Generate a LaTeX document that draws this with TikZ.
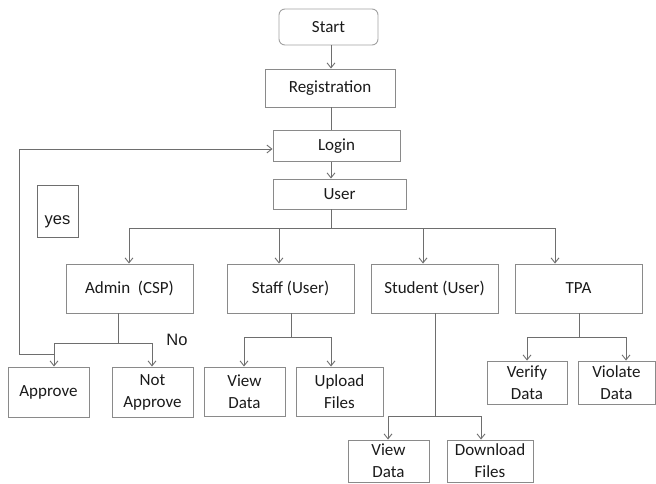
\documentclass[tikz,border=0pt]{standalone}
\usepackage{fontspec}
\setmainfont{Carlito}
\newfontfamily\arialf{Liberation Sans}
\usetikzlibrary{arrows.meta}
\definecolor{linegray}{HTML}{6E6E6E}
\definecolor{boxgray}{HTML}{8A8A8A}
\definecolor{txt}{HTML}{1A1A1A}
\tikzset{
  box/.style={draw=boxgray, line width=0.9pt, inner sep=0pt, align=center,
    text=txt, font=\fontsize{17}{22}\selectfont},
  conn/.style={draw=linegray, line width=0.9pt},
  arr/.style={conn, -{Straight Barb[length=5pt,width=8pt]}},
  lbl/.style={text=txt, inner sep=0pt, font=\arialf\fontsize{16.5}{20}\selectfont}
}
\begin{document}
\begin{tikzpicture}[x=1pt,y=-1pt]
\useasboundingbox (0,0) rectangle (656,483);
% nodes
\node[box, rounded corners=6pt, draw=boxgray!80, minimum width=99pt, minimum height=36pt] (start) at (328.5,27) {Start};
\node[box, minimum width=130pt, minimum height=38pt] (reg) at (330,88) {Registration};
\node[box, minimum width=127pt, minimum height=31pt] (login) at (336.5,146) {Login};
\node[box, minimum width=133pt, minimum height=30pt] (user) at (339.5,194) {User};
\node[box, minimum width=41pt, minimum height=52pt, draw=linegray] (yesbox) at (57.5,211) {};
\node[lbl] (yes) at (57.5,222) {yes};
\node[box, minimum width=127pt, minimum height=49pt] (admin) at (129.5,288.5) {Admin~ (CSP)};
\node[box, minimum width=127pt, minimum height=49pt] (staff) at (290.5,288.5) {Staff (User)};
\node[box, minimum width=127pt, minimum height=49pt] (student) at (434.5,288.5) {Student (User)};
\node[box, minimum width=127pt, minimum height=49pt] (tpa) at (578.5,288.5) {TPA};
\node[box, minimum width=81pt, minimum height=50pt] (approve) at (48.5,392) {Approve};
\node[box, minimum width=81pt, minimum height=50pt] (notapp) at (152.5,392) {Not\\Approve};
\node[box, minimum width=81pt, minimum height=49pt] (view1) at (244.5,391.5) {View\\Data};
\node[box, minimum width=87pt, minimum height=49pt] (upload) at (339.5,391.5) {Upload\\Files};
\node[box, minimum width=80pt, minimum height=43pt] (verify) at (527,382.5) {Verify\\Data};
\node[box, minimum width=77pt, minimum height=43pt] (violate) at (616.5,382.5) {Violate\\Data};
\node[box, minimum width=81pt, minimum height=42pt] (view2) at (388.5,461) {View\\Data};
\node[box, minimum width=86pt, minimum height=42pt] (download) at (490,461) {Download\\Files};
\node[lbl] (no) at (177,340) {No};
% junction coordinates
\coordinate (ubar) at (331,228);
\coordinate (barL) at (129,228);
\coordinate (barR) at (555,228);
\coordinate (aj) at (118,343);
\coordinate (ajL) at (54,343);
\coordinate (ajR) at (152,343);
\coordinate (loopA) at (54,354);
\coordinate (loopB) at (19,354);
\coordinate (sj) at (291,337);
\coordinate (sjL) at (244,337);
\coordinate (sjR) at (331,337);
\coordinate (tj) at (579,337);
\coordinate (tjL) at (527,337);
\coordinate (tjR) at (626,337);
\coordinate (stj) at (435,416);
\coordinate (stjL) at (388,416);
\coordinate (stjR) at (481,416);
% top chain
\draw[arr] (331,0 |- start.south) -- (331,0 |- reg.north);
\draw[conn] (331,0 |- reg.south) -- (331,0 |- login.north);
\draw[arr] (331,0 |- login.south) -- (331,0 |- user.north);
\draw[conn] (331,0 |- user.south) -- (ubar);
\draw[conn] (barL) -- (barR);
\draw[arr] (barL) -- (129,0 |- admin.north);
\draw[arr] (279,228) -- (279,0 |- staff.north);
\draw[arr] (423,228) -- (423,0 |- student.north);
\draw[arr] (barR) -- (555,0 |- tpa.north);
% admin branch
\draw[conn] (118,0 |- admin.south) -- (aj);
\draw[conn] (ajL) -- (ajR);
\draw[arr] (ajL) -- (54,0 |- approve.north);
\draw[arr] (ajR) -- (152,0 |- notapp.north);
\draw[arr] (loopA) -- (loopB) -- (19,149) -- (login.west |- 0,149);
% staff branch
\draw[conn] (291,0 |- staff.south) -- (sj);
\draw[conn] (sjL) -- (sjR);
\draw[arr] (sjL) -- (244,0 |- view1.north);
\draw[arr] (sjR) -- (331,0 |- upload.north);
% tpa branch
\draw[conn] (579,0 |- tpa.south) -- (tj);
\draw[conn] (tjL) -- (tjR);
\draw[arr] (tjL) -- (527,0 |- verify.north);
\draw[arr] (tjR) -- (626,0 |- violate.north);
% student branch
\draw[conn] (435,0 |- student.south) -- (stj);
\draw[conn] (stjL) -- (stjR);
\draw[arr] (stjL) -- (388,0 |- view2.north);
\draw[arr] (stjR) -- (481,0 |- download.north);
\end{tikzpicture}
\end{document}
